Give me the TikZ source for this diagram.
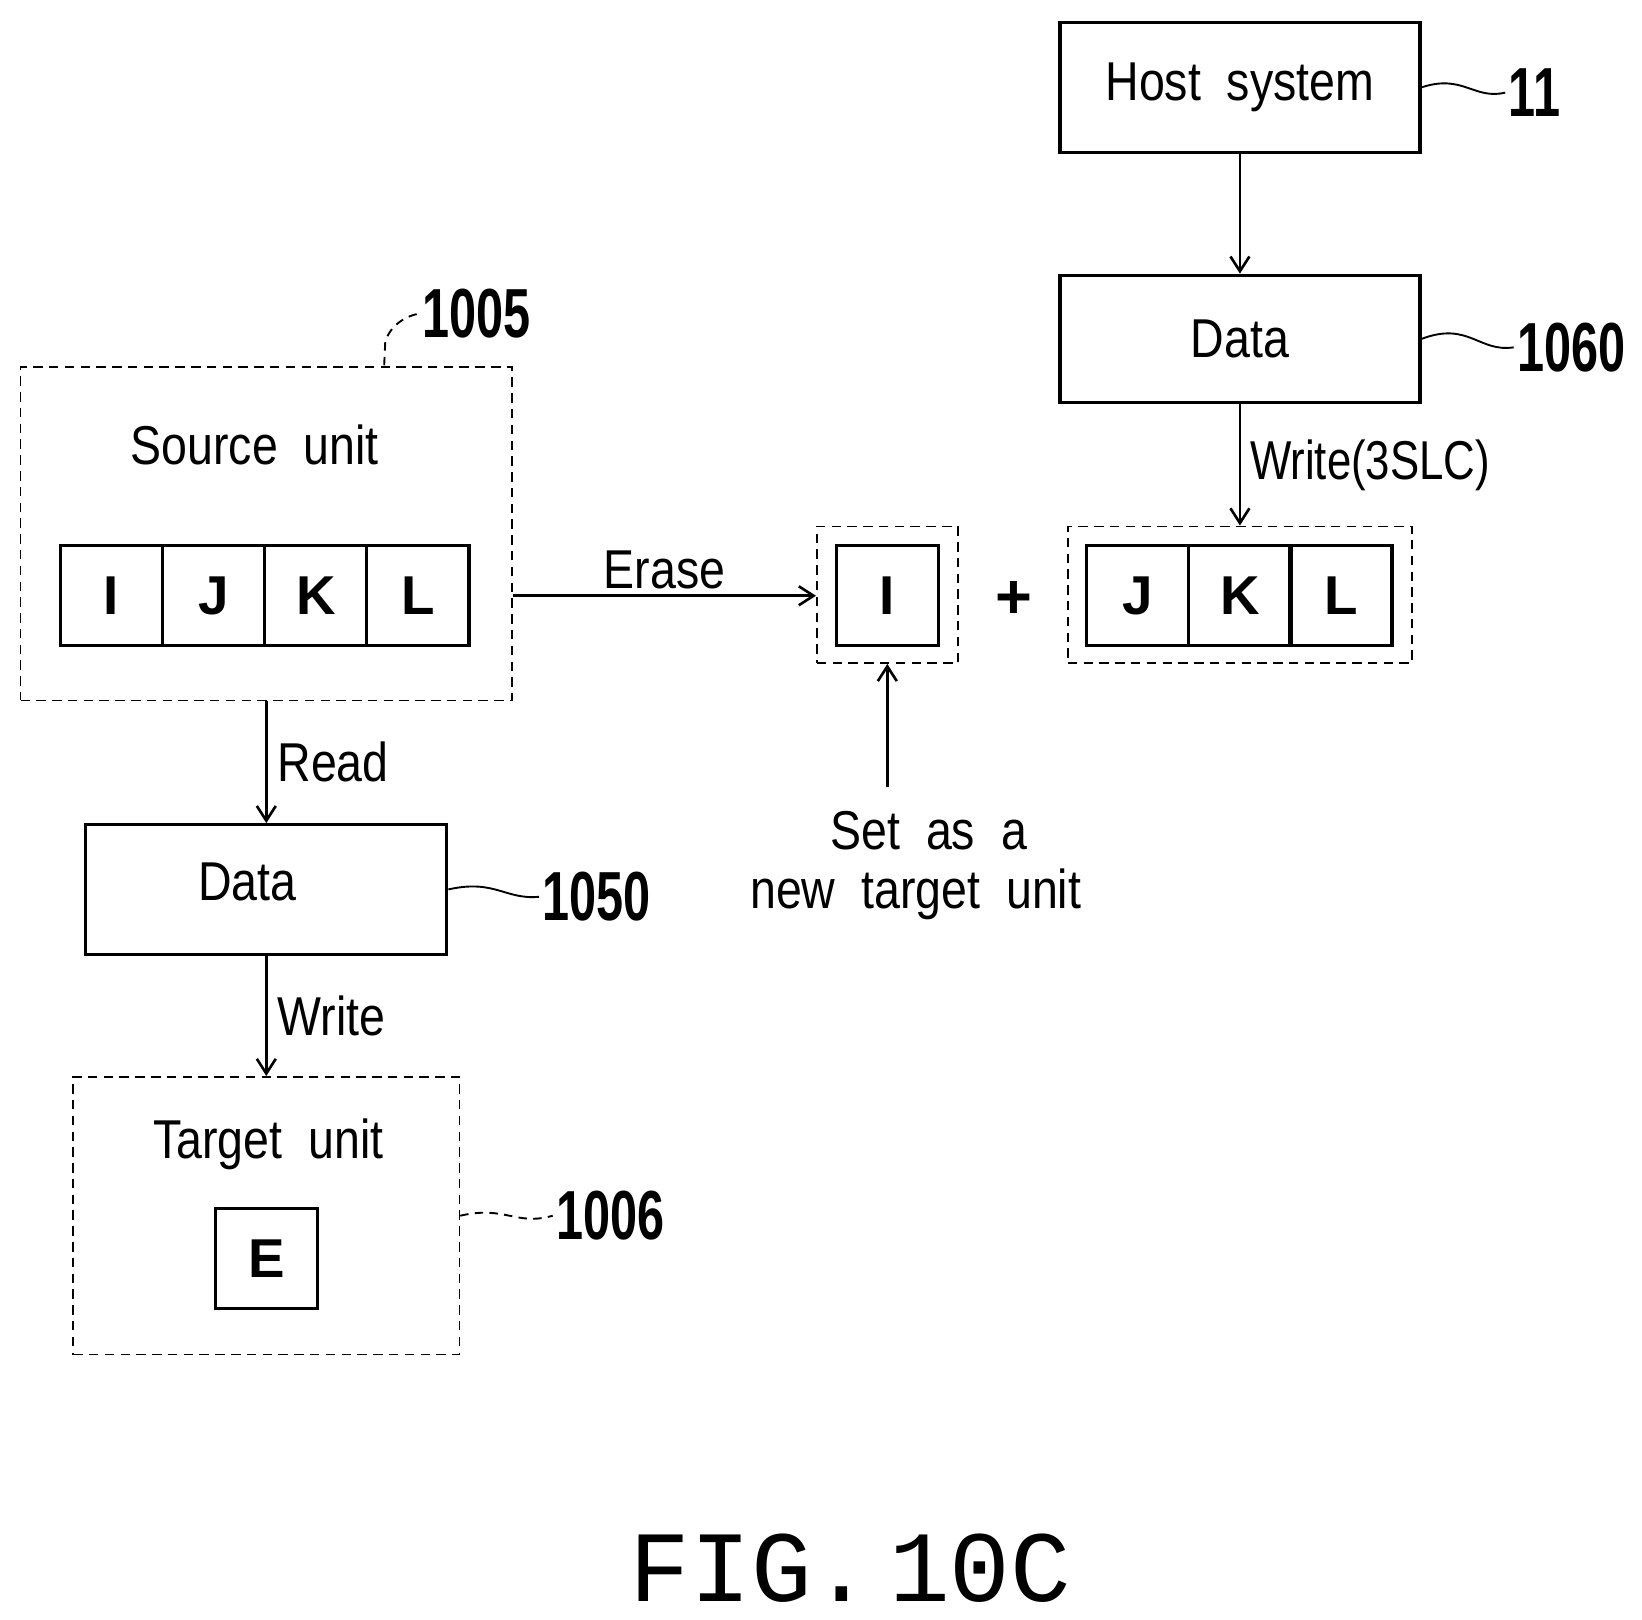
\documentclass[tikz,border=0pt]{standalone}
\usepackage{fontspec}
\setmainfont{Liberation Sans}
\setmonofont{Liberation Mono}
\usetikzlibrary{arrows.meta}
\begin{document}
\begin{tikzpicture}[x=1pt,y=-1pt,
  box/.style={draw,line width=3pt},
  dbox/.style={draw,line width=1.5pt,dash pattern=on 9pt off 6pt},
  cell/.style={draw,line width=3pt,minimum width=97pt,minimum height=95pt,inner sep=0pt,font=\fontsize{52}{56}\selectfont\bfseries},
  txt/.style={font=\fontsize{52}{60}\selectfont},
  lab/.style={font=\fontsize{66}{70}\selectfont\bfseries},
  arr/.style={line width=2.5pt,-{Straight Barb[length=14pt,width=18pt,line width=2.5pt]}},
  lead/.style={line width=1.8pt}]
\useasboundingbox (0,0) rectangle (1560,1539);
% host
\node[box,minimum width=342pt,minimum height=123pt,txt] (host) at (1178,83) {\scalebox{0.85}[1]{Host\ \ system}};
\node[lab] (l11) at (1458,88) {\scalebox{0.7}[1]{11}};
\draw[lead] (host.east) .. controls (1390,70) and (1400,95) .. (l11.west);
\node[box,minimum width=342pt,minimum height=121pt,txt] (d1060) at (1178,322) {\scalebox{0.85}[1]{Data}};
\node[lab] (l1060) at (1493,330) {\scalebox{0.7}[1]{1060}};
\draw[lead] (d1060.east) .. controls (1395,305) and (1405,335) .. (l1060.west);
\draw[arr] (host.south) -- (d1060.north);
% JKL
\node[dbox,minimum width=327pt,minimum height=130pt] (jkl) at (1178,565) {};
\node[cell] (cj) at (1081,566) {J};
\node[cell] (ck) at (1178,566) {K};
\node[cell] (cl) at (1274,566) {L};
\draw[arr] (d1060.south) -- (jkl.north) node[midway,right,txt,xshift=5pt] {\scalebox{0.8}[1]{Write(3SLC)}};
\node[font=\fontsize{60}{60}\selectfont\bfseries] (plus) at (963,570) {+};
% I
\node[dbox,minimum width=134pt,minimum height=130pt] (ibox) at (843,565) {};
\node[cell] (ci) at (843,566) {I};
\coordinate (setp) at (843,748);
\draw[arr] (setp) -- (ibox.south);
\node[txt,align=center] (settxt) at (870,822) {\scalebox{0.85}[1]{\ \ Set\ \ as\ \ a}\\[-4pt]\scalebox{0.85}[1]{new\ \ target\ \ unit}};
% source
\node[dbox,minimum width=467pt,minimum height=317pt] (src) at (253,507) {};
\node[txt] (srct) at (242,423) {\scalebox{0.85}[1]{Source\ \ unit}};
\node[cell] (s1) at (106,566) {I};
\node[cell] (s2) at (203,566) {J};
\node[cell] (s3) at (300,566) {K};
\node[cell] (s4) at (397,566) {L};
\node[lab] (l1005) at (453,298) {\scalebox{0.7}[1]{1005}};
\draw[lead,dash pattern=on 8pt off 6pt] (365,347) -- (366,325) .. controls (370,310) and (385,300) .. (l1005.west);
\draw[arr] (src.east |- 0,566) -- (ibox.west |- 0,566) node[midway,above,txt,yshift=2pt] {\scalebox{0.85}[1]{Erase}};
% data 1050
\node[box,minimum width=343pt,minimum height=123pt,txt] (d1050) at (253,845) {};
\node[txt] at (235,838) {\scalebox{0.85}[1]{Data}};
\node[lab] (l1050) at (567,852) {\scalebox{0.7}[1]{1050}};
\draw[lead] (d1050.east) .. controls (470,835) and (480,855) .. (l1050.west);
\draw[arr] (src.south) -- (d1050.north) node[midway,right,txt,xshift=6pt] {\scalebox{0.85}[1]{Read}};
% target
\node[dbox,minimum width=367pt,minimum height=264pt] (tgt) at (253,1155) {};
\node[txt] (tgtt) at (255,1087) {\scalebox{0.85}[1]{Target\ \ unit}};
\node[cell] (ce) at (253,1196) {E};
\draw[arr] (d1050.south) -- (tgt.north) node[midway,right,txt,xshift=6pt] {\scalebox{0.85}[1]{Write}};
\node[lab] (l1006) at (580,1155) {\scalebox{0.7}[1]{1006}};
\draw[lead,dash pattern=on 8pt off 6pt] (tgt.east) .. controls (480,1145) and (490,1165) .. (l1006.west);
% caption
\node[font=\fontsize{96}{100}\ttfamily] (cap) at (808,1490) {FIG.\,10C};
\end{tikzpicture}
\end{document}
